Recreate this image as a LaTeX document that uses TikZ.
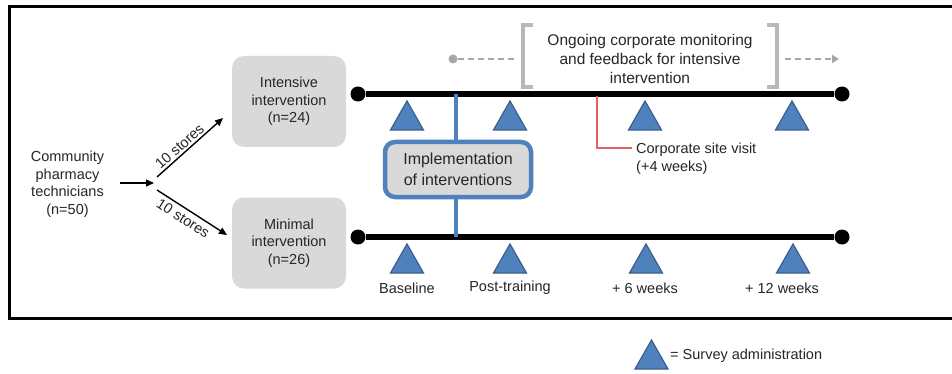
\documentclass[tikz,border=0pt]{standalone}
\usepackage{fontspec}
\setmainfont{Liberation Sans}
\usetikzlibrary{arrows.meta}
\definecolor{boxgrey}{HTML}{D9D9D9}
\definecolor{survblue}{HTML}{4F81BD}
\definecolor{survedge}{HTML}{3A5F8C}
\definecolor{brgrey}{HTML}{B8B8B8}
\definecolor{dashgrey}{HTML}{A6A6A6}
\definecolor{siteline}{HTML}{E06060}
\definecolor{txt}{HTML}{262626}
\begin{document}
\begin{tikzpicture}[x=1pt,y=-1pt,
  font=\fontsize{14.5}{17.5}\selectfont, text=txt,
  txtnode/.style={align=center, inner sep=0pt},
  armbox/.style={fill=boxgrey, rounded corners=12pt, minimum width=114pt, minimum height=91pt, align=center, inner sep=0pt},
  implbox/.style={fill=boxgrey, draw=survblue, line width=4.5pt, rounded corners=10pt, minimum width=146pt, minimum height=55pt, align=center, inner sep=0pt, font=\fontsize{16}{20.5}\selectfont},
  tline/.style={line width=5.5pt},
  enddot/.style={circle, fill=black, minimum size=15pt, inner sep=0pt},
  flowarrow/.style={line width=1.4pt, -{Triangle[length=8pt,width=7pt]}},
  bluelink/.style={draw=survblue, line width=3.8pt},
  bracketline/.style={draw=brgrey, line width=3.2pt},
  dashline/.style={draw=dashgrey, line width=2.6pt, dash pattern=on 6pt off 4pt},
  survey/.pic={\path[fill=survblue, draw=survedge, line width=1.2pt] (-16.5,29) -- (0,0) -- (16.5,29) -- cycle;}
]
\useasboundingbox (0,0) rectangle (952,374);
\fill[white] (0,0) rectangle (952,374);

% frame (open on the right, as in the reference)
\draw[line width=3pt] (953,7) -- (9,7) -- (9,318) -- (953,318);

% source and arms
\node[txtnode] (src) at (67.5,184) {Community\\pharmacy\\technicians\\(n=50)};
\coordinate (a0) at (120,183);
\coordinate (split) at (154,183);
\draw[flowarrow] (a0) -- (split);

\node[armbox] (int) at (289,101.5) {Intensive\\intervention\\(n=24)};
\node[armbox] (min) at (289,243) {Minimal\\intervention\\(n=26)};

\coordinate (up0) at (157,177);
\coordinate (up1) at (223,118);
\coordinate (lo0) at (157,190);
\coordinate (lo1) at (227,235);
\draw[flowarrow] (up0) -- node[above, sloped, pos=0.42, inner sep=2pt] (lab1) {10 stores} (up1);
\draw[flowarrow] (lo0) -- node[below, sloped, pos=0.45, inner sep=4pt] (lab2) {10 stores} (lo1);

% timelines
\node[enddot] (u0) at (358,94) {};
\node[enddot] (u1) at (842,94) {};
\node[enddot] (l0) at (358,237) {};
\node[enddot] (l1) at (842,237) {};
\draw[tline] (u0) -- (u1);
\draw[tline] (l0) -- (l1);

% implementation box and blue link
\node[implbox] (impl) at (458,169.5) {Implementation\\of interventions};
\coordinate (ub) at (456,94);
\coordinate (lb) at (456,237);
\draw[bluelink] (ub) -- (impl.north -| ub);
\draw[bluelink] (impl.south -| lb) -- (lb);

% survey triangles
\pic at (407,101) {survey};
\pic at (510,101) {survey};
\pic at (645,101) {survey};
\pic at (792,101) {survey};
\pic at (407,244) {survey};
\pic at (510,244) {survey};
\pic at (646,244) {survey};
\pic at (793,244) {survey};

\node[txtnode] (tb) at (407,288) {Baseline};
\node[txtnode] (tp) at (510,288) {Post-training};
\node[txtnode] (t6) at (645,288) {+ 6 weeks};
\node[txtnode] (t12) at (782,288) {+ 12 weeks};

% corporate site visit
\coordinate (rv) at (597,96);
\coordinate (rc) at (632,148);
\draw[siteline, line width=1.3pt] (rv) |- (rc);
\node[txtnode, anchor=west, align=left] (visit) at (636,158.5) {Corporate site visit\\(+4 weeks)};

% ongoing monitoring bracket
\node[txtnode, font=\fontsize{15.5}{19}\selectfont] (mon) at (650,59) {Ongoing corporate monitoring\\and feedback for intensive\\intervention};
\coordinate (bl1) at (533,25); \coordinate (bl2) at (523,25);
\coordinate (bl3) at (523,87); \coordinate (bl4) at (533,87);
\coordinate (br1) at (767,25); \coordinate (br2) at (777,25);
\coordinate (br3) at (777,87); \coordinate (br4) at (767,87);
\draw[bracketline] (bl1) -- (bl2) -- (bl3) -- (bl4);
\draw[bracketline] (br1) -- (br2) -- (br3) -- (br4);
\node[circle, fill=dashgrey, minimum size=9pt, inner sep=0pt] (ds) at (453,59) {};
\coordinate (de) at (516,59);
\coordinate (rs) at (785,59);
\coordinate (re) at (839,59);
\draw[dashline] (ds) -- (de);
\draw[dashline, -{Triangle[length=7pt,width=8pt]}] (rs) -- (re);

% legend
\pic at (651.5,340) {survey};
\node[txtnode, anchor=west] (legend) at (670,356) {= Survey administration};
\end{tikzpicture}
\end{document}
